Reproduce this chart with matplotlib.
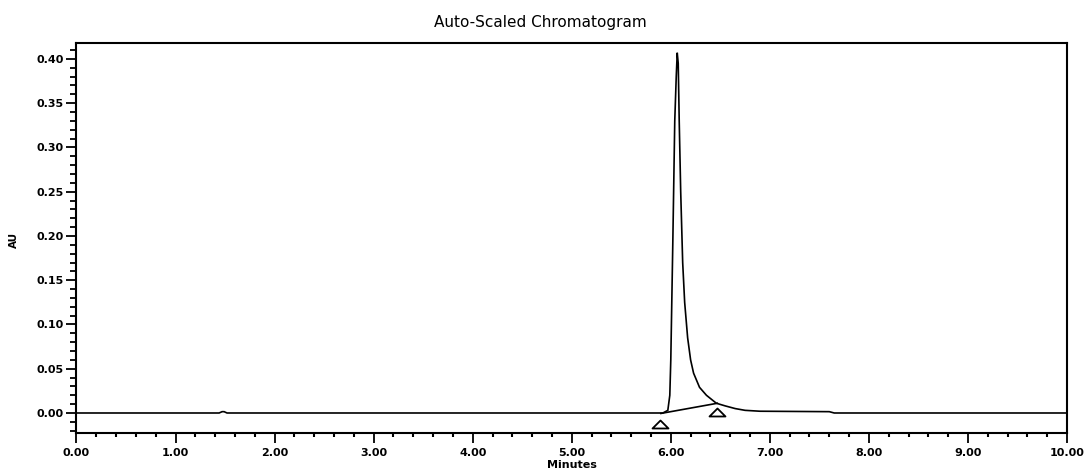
import matplotlib
matplotlib.use("Agg")
import matplotlib.pyplot as plt
from matplotlib.ticker import MultipleLocator, FormatStrFormatter
from matplotlib.path import Path

# ---- data ----
time_min = [0.00, 1.44, 1.47, 1.49, 1.52, 5.80, 5.92, 5.97, 5.99, 6.00, 6.02, 6.04,
            6.055, 6.065, 6.075, 6.085, 6.10, 6.12, 6.14, 6.17, 6.20, 6.23, 6.29,
            6.36, 6.46, 6.55, 6.65, 6.75, 6.90, 7.60, 7.65, 10.00]
au = [0.0000, 0.0000, 0.0015, 0.0015, 0.0000, 0.0000, 0.0000, 0.0030, 0.0200,
      0.0600, 0.1900, 0.3300, 0.3800, 0.4070, 0.3950, 0.3300, 0.2500, 0.1700,
      0.1250, 0.0850, 0.0600, 0.0450, 0.0290, 0.0200, 0.0110, 0.0080, 0.0050,
      0.0030, 0.0020, 0.0015, 0.0000, 0.0000]

baseline_t = [5.90, 6.47]
baseline_au = [-0.0005, 0.0110]

marker_t = [5.89, 6.47]
marker_au = [-0.0120, 0.0010]

title = "Auto-Scaled Chromatogram"
xlabel = "Minutes"
ylabel = "AU"

# ---- figure ----
fig = plt.figure(figsize=(10.88, 4.74), dpi=100)
ax = fig.add_axes([0.0703, 0.0865, 0.9104, 0.8235])

ax.plot(time_min, au, color="black", lw=1.2, solid_joinstyle="miter")
ax.plot(baseline_t, baseline_au, color="black", lw=1.2)

tri = Path([(-1, -0.5), (1, -0.5), (0, 0.5), (-1, -0.5)],
           [Path.MOVETO, Path.LINETO, Path.LINETO, Path.CLOSEPOLY])
ax.plot(marker_t, marker_au, linestyle="none", marker=tri, markersize=11.5,
        markerfacecolor="white", markeredgecolor="black", markeredgewidth=1.3)

ax.set_xlim(0, 10)
ax.set_ylim(-0.0226, 0.4184)

ax.xaxis.set_major_locator(MultipleLocator(1.0))
ax.xaxis.set_minor_locator(MultipleLocator(0.2))
ax.yaxis.set_major_locator(MultipleLocator(0.05))
ax.yaxis.set_minor_locator(MultipleLocator(0.01))
ax.xaxis.set_major_formatter(FormatStrFormatter("%.2f"))
ax.yaxis.set_major_formatter(FormatStrFormatter("%.2f"))

ax.tick_params(axis="both", which="major", direction="out", length=7, width=1.3,
               labelsize=8, color="black")
ax.tick_params(axis="x", which="minor", direction="out", length=3, width=1.5,
               color="black")
ax.tick_params(axis="y", which="minor", direction="out", length=4, width=1.3,
               color="black")
ax.tick_params(axis="x", which="major", pad=4)
ax.tick_params(axis="y", which="major", pad=2)
for lab in ax.get_xticklabels() + ax.get_yticklabels():
    lab.set_fontweight("bold")

for sp in ax.spines.values():
    sp.set_linewidth(1.5)
    sp.set_color("black")

ax.set_xlabel(xlabel, fontsize=8, fontweight="bold", labelpad=1)
fig.text(0.0125, 1 - 240 / 474, ylabel, rotation=90, fontsize=7.5,
         fontweight="bold", ha="center", va="center")
fig.text(0.497, 1 - 23 / 474, title, fontsize=11, ha="center", va="center")

fig.savefig("out.png", dpi=100)
